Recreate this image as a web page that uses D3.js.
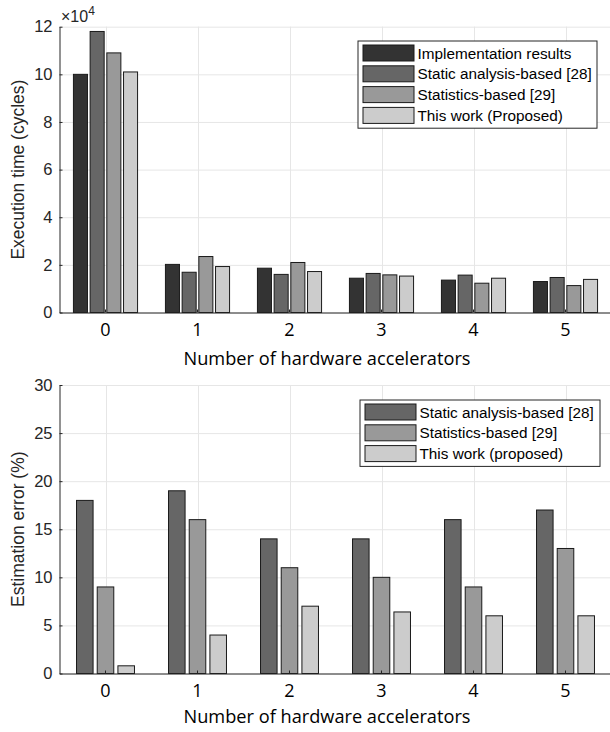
<!DOCTYPE html>
<html>
<head>
<meta charset="utf-8">
<script src="https://cdn.jsdelivr.net/npm/d3@7"></script>
<style>
  body { margin: 0; background: #fff; }
  svg { display: block; }
  .tick line { stroke: #262626; }
  .axis path { stroke: #262626; }
</style>
</head>
<body>
<div id="chart"></div>
<script>
// data
const accelerators = ['0', '1', '2', '3', '4', '5'];

const timeSeries = ['Implementation results', 'Static analysis-based [28]', 'Statistics-based [29]', 'This work (Proposed)'];
const implResults = [10.0, 2.02, 1.86, 1.44, 1.36, 1.30];   // x10^4 cycles
const staticTime  = [11.8, 1.69, 1.60, 1.64, 1.57, 1.47];
const statsTime   = [10.9, 2.35, 2.10, 1.58, 1.23, 1.13];
const thisTime    = [10.1, 1.93, 1.72, 1.53, 1.44, 1.39];
const timeTicks = [0, 2, 4, 6, 8, 10, 12];

const errSeries = ['Static analysis-based [28]', 'Statistics-based [29]', 'This work (proposed)'];
const staticErr = [18, 19, 14, 14, 16, 17];
const statsErr  = [9, 16, 11, 10, 9, 13];
const thisErr   = [0.8, 4, 7, 6.4, 6, 6];
const errTicks = [0, 5, 10, 15, 20, 25, 30];

const xLabel = 'Number of hardware accelerators';
const sans = "'Liberation Sans', Arial, sans-serif";

const svg = d3.select('#chart').append('svg').attr('width', 610).attr('height', 732);

function panel(cfg) {
    const left = 59.5, right = 611.5;
    const x = d3.scaleBand().domain(accelerators).range([left, right]).padding(0);
    const y = d3.scaleLinear().domain([cfg.ticks[0], cfg.ticks[cfg.ticks.length - 1]]).range([cfg.bottom, cfg.top]);
    const inner = d3.scaleBand().domain(cfg.series).range([-cfg.half, cfg.half])
        .paddingInner(cfg.pad).paddingOuter(cfg.pad / 2);
    const g = svg.append('g');

    // grid
    g.selectAll('line.hgrid').data(cfg.ticks).enter().append('line')
        .attr('x1', left).attr('x2', right)
        .attr('y1', (d) => y(d) + 0.5).attr('y2', (d) => y(d) + 0.5)
        .attr('stroke', '#e6e6e6');
    g.selectAll('line.vgrid').data(accelerators).enter().append('line')
        .attr('x1', (d) => Math.round(x(d) + x.bandwidth() / 2) + 0.5)
        .attr('x2', (d) => Math.round(x(d) + x.bandwidth() / 2) + 0.5)
        .attr('y1', cfg.top).attr('y2', cfg.bottom)
        .attr('stroke', '#e6e6e6');

    // bars
    const rows = accelerators.map((c, i) => ({c: c, vals: cfg.values.map((v, k) => ({s: cfg.series[k], v: v[i], col: cfg.colors[k]}))}));
    g.selectAll('g.grp').data(rows).enter().append('g')
        .attr('transform', (d) => 'translate(' + (x(d.c) + x.bandwidth() / 2) + ',0)')
        .selectAll('rect').data((d) => d.vals).enter().append('rect')
        .attr('x', (d) => inner(d.s))
        .attr('width', inner.bandwidth())
        .attr('y', (d) => y(d.v))
        .attr('height', (d) => cfg.bottom - y(d.v))
        .attr('fill', (d) => d.col)
        .attr('stroke', '#1a1a1a')
        .attr('stroke-width', 1);

    // axes
    g.append('g').attr('class', 'axis')
        .attr('transform', 'translate(' + left + ',0)')
        .call(d3.axisLeft(y).tickValues(cfg.ticks).tickSizeInner(-3).tickSizeOuter(0).tickPadding(7))
        .call((a) => a.selectAll('text').attr('font-family', sans)
            .attr('font-size', 16.5).attr('fill', '#262626'));
    g.append('g').attr('class', 'axis')
        .attr('transform', 'translate(0,' + cfg.bottom + ')')
        .call(d3.axisBottom(x).tickSizeInner(-3).tickSizeOuter(0).tickPadding(11))
        .call((a) => a.selectAll('text').attr('font-family', "'Open Sans', sans-serif")
            .attr('font-size', 18).attr('fill', '#000'));

    g.append('text')
        .attr('x', 327).attr('y', cfg.bottom + cfg.xlabOff)
        .attr('text-anchor', 'middle')
        .attr('font-family', "'Open Sans', sans-serif").attr('font-size', 18.2)
        .text(xLabel);
    g.append('text')
        .attr('transform', 'translate(24,' + (cfg.top + cfg.bottom) / 2 + ') rotate(-90)')
        .attr('text-anchor', 'middle')
        .attr('font-family', sans).attr('font-size', 17.5)
        .attr('fill', '#262626')
        .text(cfg.ylabel);

    // legend
    const lg = g.append('g').attr('transform', 'translate(' + cfg.legend[0] + ',' + cfg.legend[1] + ')');
    lg.append('rect').attr('x', 0.5).attr('y', 0.5)
        .attr('width', cfg.legend[2]).attr('height', cfg.series.length * 20.8 + 4)
        .attr('fill', '#fff').attr('stroke', '#262626');
    const item = lg.selectAll('g.item').data(cfg.series).enter().append('g')
        .attr('transform', (d, i) => 'translate(5,' + (4 + i * 20.8) + ')');
    item.append('rect').attr('x', 0.5).attr('y', 0.5).attr('width', 51).attr('height', 16)
        .attr('fill', (d, i) => cfg.colors[i]).attr('stroke', '#1a1a1a');
    item.append('text').attr('x', 55).attr('y', 14)
        .attr('font-family', sans).attr('font-size', 15.3)
        .attr('fill', '#000')
        .text((d) => d);
}

panel({
    top: 26.7, bottom: 312.5, ticks: timeTicks,
    series: timeSeries, values: [implResults, staticTime, statsTime, thisTime],
    colors: ['#333333', '#666666', '#999999', '#cccccc'],
    half: 33.4, pad: 0.16, xlabOff: 52,
    ylabel: 'Execution time (cycles)',
    legend: [357.5, 40.5, 239]
});

// x10^4 exponent label
svg.append('text').attr('x', 61).attr('y', 22)
    .attr('font-family', sans).attr('font-size', 16).attr('fill', '#262626')
    .text('\u00d710')
    .append('tspan').attr('dy', -7).attr('font-size', 12).text('4');

panel({
    top: 385, bottom: 673.5, ticks: errTicks,
    series: errSeries, values: [staticErr, statsErr, thisErr],
    colors: ['#666666', '#999999', '#cccccc'],
    half: 31.05, pad: 0.2, xlabOff: 49,
    ylabel: 'Estimation error (%)',
    legend: [359.5, 399.5, 240]
});
</script>
</body>
</html>
